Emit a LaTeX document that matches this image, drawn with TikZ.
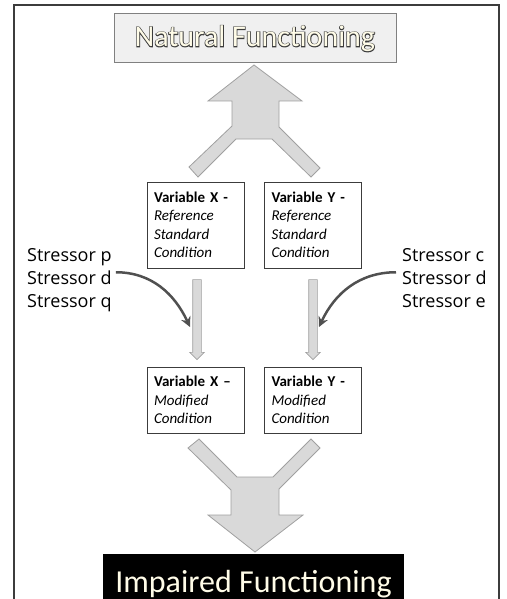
\documentclass[tikz,border=0pt]{standalone}
\usepackage{fontspec}
\setmainfont{Carlito}
\newfontfamily\stressfont{Open Sans}
\newfontfamily\outlinefont[FakeBold=5]{Carlito}
\usetikzlibrary{shapes.arrows, positioning, arrows.meta, calc}
\definecolor{FrameGray}{HTML}{3C3C3C}
\definecolor{ArrowFill}{HTML}{D9D9D9}
\definecolor{ArrowLine}{HTML}{A0A0A0}
\definecolor{TitleFill}{HTML}{F0F0F0}
\definecolor{TitleCream}{HTML}{FFFCE8}
\definecolor{CurveGray}{HTML}{505050}

\begin{document}
\begin{tikzpicture}[x=1pt, y=-1pt,
    varbox/.style={draw=FrameGray, fill=white, line width=0.8pt, text width=83pt, inner xsep=7pt,
        minimum height=86pt, align=left, font=\fontsize{15}{18.5}\selectfont},
    stressor/.style={anchor=base west, inner sep=0pt, font=\stressfont\fontsize{18}{22}\selectfont},
    bigarrow/.style={fill=ArrowFill, draw=ArrowLine, line width=0.8pt, line join=miter},
    thinarrow/.style={single arrow, single arrow head extend=3pt, single arrow tip angle=90,
        minimum height=80pt, inner xsep=0pt, inner ysep=4pt, text height=0pt, text depth=0pt,
        fill=ArrowFill, draw=ArrowLine, line width=0.6pt, rotate=-90},
    stressarrow/.style={-{Stealth[length=10pt, width=10pt]}, line width=2.5pt, draw=CurveGray}]
    \useasboundingbox (0,0) rectangle (506,599);
    \clip (0,0) rectangle (506,599);

    % Frame
    \draw[line width=1.5pt, FrameGray] (14,5) rectangle (499,640);

    % Titles
    \node[fill=TitleFill, draw=gray, line width=0.8pt, minimum width=282pt, minimum height=49pt,
        text height=21pt, text depth=3pt, text=TitleCream, font=\fontsize{30}{34}\selectfont]
        (natural) at (255,37.5) {\rlap{\outlinefont\color{FrameGray}Natural Functioning}Natural Functioning};
    \node[fill=black, anchor=north, minimum width=301pt, inner ysep=14pt, text height=24pt,
        text depth=20pt, text=TitleCream, font=\fontsize{32}{36}\selectfont]
        (impaired) at (253.5,554) {Impaired Functioning};

    % Big arrows
    \filldraw[bigarrow] (254,65) -- (302,101) -- (279,101) -- (279,127) -- (320,168) -- (311,177)
        -- (272,139) -- (236,139) -- (198,177) -- (189,167) -- (232,126) -- (232,101) -- (208,101) -- cycle;
    \filldraw[bigarrow] (255,552) -- (303,515) -- (279,515) -- (279,489) -- (320,448) -- (311,439)
        -- (273,477) -- (237,477) -- (199,439) -- (188,448) -- (231,490) -- (231,515) -- (208,515) -- cycle;

    % Variable boxes
    \node[varbox] (xref) at (195.5,225) {\textbf{Variable X -}\\\textit{Reference}\\\textit{Standard}\\\textit{Condition}};
    \node[varbox] (yref) at (313,225) {\textbf{Variable Y -}\\\textit{Reference}\\\textit{Standard}\\\textit{Condition}};
    \node[varbox, minimum height=66pt] (xmod) at (195.5,400) {\textbf{Variable X --}\\\textit{Modified}\\\textit{Condition}};
    \node[varbox, minimum height=66pt] (ymod) at (313,400) {\textbf{Variable Y -}\\\textit{Modified}\\\textit{Condition}};

    % Thin arrows
    \node[thinarrow] (xarrow) at ($(xref.south)!0.5!(xmod.north)+(1.5,0)$) {};
    \node[thinarrow] (yarrow) at ($(yref.south)!0.5!(ymod.north)$) {};

    % Stressors
    \node[stressor] (sp) at (27,261) {Stressor p};
    \node[stressor] (sd) at (27,284) {Stressor d};
    \node[stressor] (sq) at (27,307) {Stressor q};
    \node[stressor] (sc) at (402,261) {Stressor c};
    \node[stressor] (sdy) at (402,284) {Stressor d};
    \node[stressor] (se) at (402,307) {Stressor e};

    \coordinate (xhit) at (190,327);
    \coordinate (yhit) at (319,327);
    \draw[stressarrow] ($(sd.east)+(4,-5)$) to[out=0, in=115] (xhit);
    \draw[stressarrow] ($(sdy.west)+(-6,-5)$) to[out=180, in=65] (yhit);
\end{tikzpicture}
\end{document}
